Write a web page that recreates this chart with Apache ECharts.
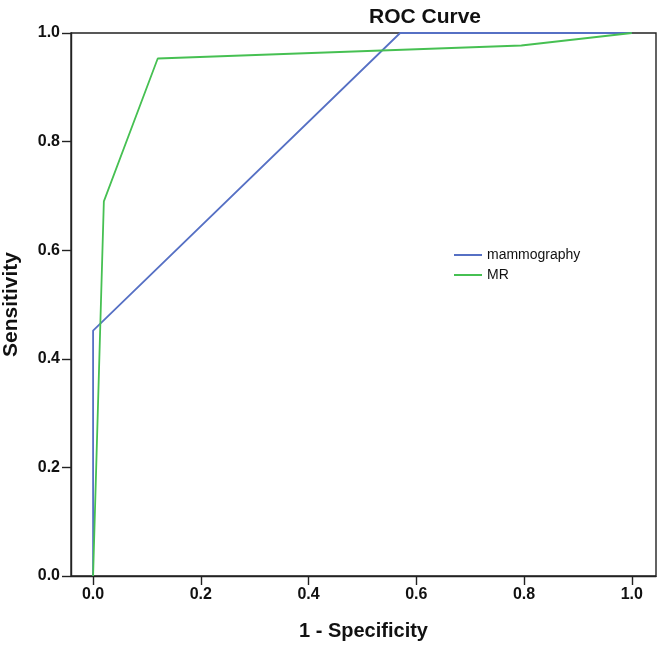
<!DOCTYPE html>
<html><head><meta charset="utf-8">
<script src="https://cdn.jsdelivr.net/npm/echarts@6/dist/echarts.min.js"></script>
<style>html,body{margin:0;padding:0;background:#fff}#c{width:661px;height:649px}</style>
</head><body><div id="c"></div>
<script>
const seriesNames = ['mammography', 'MR'];
const mammoX = [0, 0, 0.57, 1];
const mammoY = [0, 0.452, 1, 1];
const mrX = [0, 0.02, 0.12, 0.795, 1];
const mrY = [0, 0.69, 0.953, 0.977, 1];
const xTicks = [0, 0.2, 0.4, 0.6, 0.8, 1.0];
const yTicks = [0, 0.2, 0.4, 0.6, 0.8, 1.0];
const colors = ['#5670c4', '#46c052'];

const zip = (xs, ys) => xs.map((x, i) => [x, ys[i]]);
const font = 'Liberation Sans, Arial, sans-serif';
const axisCol = '#222';
const chart = echarts.init(document.getElementById('c'));
chart.setOption({
  animation: false,
  title: { text: 'ROC Curve', left: 420, top: 2, textAlign: 'center',
    textStyle: { fontFamily: font, fontSize: 21, fontWeight: 'bold', color: '#111' } },
  legend: { orient: 'vertical', left: 449, top: 243, itemWidth: 28, itemHeight: 2, itemGap: 6,
    icon: 'rect', data: seriesNames,
    textStyle: { fontFamily: font, fontSize: 14, color: '#111' } },
  grid: { left: 71, right: 5, top: 33, bottom: 73, outerBoundsMode: 'none', containLabel: false,
    show: true, borderColor: axisCol, borderWidth: 1.4 },
  xAxis: { type: 'value', min: -0.041, max: 1.045,
    name: '1 - Specificity', nameLocation: 'middle', nameGap: 45,
    nameTextStyle: { fontFamily: font, fontSize: 20, fontWeight: 'bold', color: '#111' },
    axisLine: { show: true, onZero: false, lineStyle: { color: axisCol, width: 1.4 } },
    axisTick: { show: true, length: 9, customValues: xTicks, lineStyle: { color: axisCol, width: 1.4 } },
    axisLabel: { customValues: xTicks, margin: 11, formatter: v => v.toFixed(1),
      fontFamily: font, fontSize: 16, fontWeight: 'bold', color: '#111' },
    splitLine: { show: false } },
  yAxis: { type: 'value', min: 0, max: 1,
    name: 'Sensitivity', nameLocation: 'middle', nameGap: 49, nameRotate: 90,
    nameTextStyle: { fontFamily: font, fontSize: 21, fontWeight: 'bold', color: '#111' },
    axisLine: { show: true, onZero: false, lineStyle: { color: axisCol, width: 1.4 } },
    axisTick: { show: true, length: 9, customValues: yTicks, lineStyle: { color: axisCol, width: 1.4 } },
    axisLabel: { customValues: yTicks, margin: 11, formatter: v => v.toFixed(1),
      fontFamily: font, fontSize: 16, fontWeight: 'bold', color: '#111' },
    splitLine: { show: false } },
  series: [
    { name: seriesNames[0], type: 'line', data: zip(mammoX, mammoY), showSymbol: false,
      color: colors[0], lineStyle: { width: 1.8, color: colors[0] } },
    { name: seriesNames[1], type: 'line', data: zip(mrX, mrY), showSymbol: false,
      color: colors[1], lineStyle: { width: 1.8, color: colors[1] } }
  ]
});
</script></body></html>
